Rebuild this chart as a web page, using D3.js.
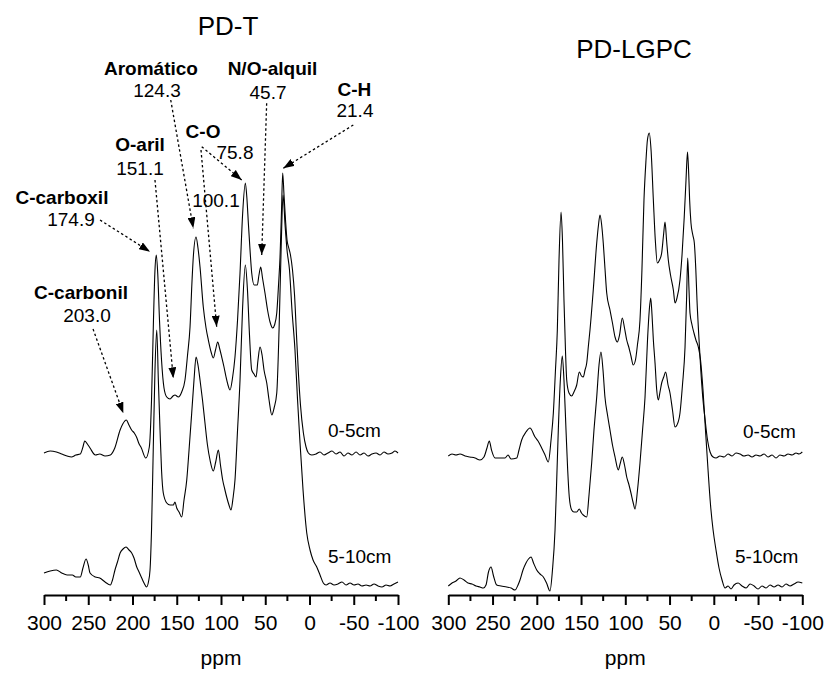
<!DOCTYPE html>
<html><head><meta charset="utf-8">
<script src="https://cdn.jsdelivr.net/npm/d3@7"></script>
<style>
html,body{margin:0;padding:0;background:#fff;}
text{font-family:"Liberation Sans",Arial,sans-serif;fill:#000;}
</style></head>
<body>
<svg id="chart" width="826" height="677"></svg>
<script>
// ---------- DATA (ppm, intensity a.u.) ----------
const panels = ["PD-T", "PD-LGPC"];
const seriesNames = ["0-5cm", "5-10cm"];
const majorTicks = [300, 250, 200, 150, 100, 50, 0, -50, -100];
const minorTicks = [275, 225, 175, 125, 75, 25, -25, -75];

const pdT_0_5 = [[300,142],[293,144],[286,143],[280,141],[274,139],[269,138],[264,140],[259,141],[256,148],[254,154],[251,151],[248,147],[242,140],[237,141],[231,139],[225,140],[220,147],[214,165],[211,171],[207,175],[204,170],[201,165],[198,162],[195,157],[193,152],[190,147],[185,137],[181,148],[178.5,195],[176.3,275],[174.6,325],[173.1,340],[171.4,320],[169.5,275],[167.2,235],[164.4,207],[161.3,198],[157.6,196],[154.2,199],[152,200],[148.2,198],[144.4,203],[140.7,215],[137.8,240],[135,268],[132.7,315],[131.3,338],[128.2,358],[126,347],[123.7,328],[120,288],[116.9,267],[114.3,255],[111.2,243],[108.7,237],[106.2,245],[103.7,253],[101.7,247],[99.2,238],[96.6,228],[94.3,218],[92.1,210],[89.8,205],[87,217],[84.2,238],[81.3,275],[78.5,322],[75.5,382],[72.5,412],[70.6,395],[69.1,372],[67.2,345],[65.3,322],[62.4,310],[59,310],[57.1,320],[55.1,328],[53.1,317],[50.3,302],[47.4,285],[44.6,273],[41.6,267],[39.5,270],[37,282],[35,310],[33.3,338],[31.6,385],[30.3,422],[28.8,400],[27.1,375],[25.4,355],[23.7,348],[21.5,340],[19.2,325],[16.9,300],[14.7,260],[12.4,220],[10.2,190],[6.9,162],[3.9,148],[1.3,142],[-2.5,140],[-7.4,141],[-11.9,143],[-16.4,140],[-20.9,142],[-25.4,144],[-30,141],[-34.5,143],[-39,139],[-43.5,142],[-48,140],[-52.6,143],[-57.1,140],[-61.6,142],[-66.1,139],[-70.6,141],[-75.2,142],[-79.7,140],[-84.2,143],[-88.7,141],[-93.2,142],[-96.6,144],[-100,142]];

const pdT_5_10 = [[300,22],[293,24],[286,25],[280,22],[274,20],[268,20],[264,18],[259,18],[256,27],[252.5,36],[250,30],[248,22],[242,18],[237,17],[231,13],[225,10],[222.6,15],[219.8,25],[217,33],[214,42],[210.7,46],[207.3,48],[203.9,45],[200.9,42],[198.3,37],[195.2,28],[192.6,23],[189.6,17],[187,12],[184,8],[182,13],[180.2,25],[178.5,65],[176.5,148],[174.6,225],[172.6,265],[170.8,215],[168.9,165],[167.2,125],[165.2,102],[161.3,92],[157.6,90],[153.9,90],[152,93],[150,87],[147.4,83],[144.4,78],[141.8,95],[138.7,115],[136.1,145],[133.1,182],[130.5,215],[128.2,238],[126,230],[123.7,215],[120.9,195],[118.1,172],[115.3,150],[112.4,135],[108.7,124],[106,133],[103,145],[100.6,130],[98.1,115],[95.8,106],[93.6,98],[91,90],[88.7,85],[86.4,97],[84.2,115],[81.3,165],[78.5,215],[75.7,285],[72.5,330],[70.1,305],[67.8,260],[65.3,225],[62.7,221],[60.4,218],[58.2,235],[55.9,248],[53.6,240],[51.4,225],[48.3,212],[45.7,195],[42.6,180],[40,187],[37,202],[34.4,265],[32.1,345],[29.9,400],[27.6,370],[25.4,345],[22.6,325],[19.8,285],[16.4,245],[13.5,195],[10.7,152],[7.3,105],[3.1,62],[-0.6,45],[-4,35],[-8.2,28],[-11.9,20],[-15.6,12],[-18.7,10],[-23.2,12],[-27.7,10],[-32.2,11],[-36.7,13],[-41.3,10],[-45.8,12],[-50.3,10],[-54.8,11],[-59.3,9],[-63.9,10],[-68.4,9],[-72.9,11],[-77.4,9],[-81.9,8],[-86.5,10],[-91,9],[-95.5,11],[-100,13]];

const lgpc_0_5 = [[300,139],[295.8,141],[291.3,140],[286.8,141],[281.1,139],[275.5,138],[269.8,137],[264.2,135],[259.7,138],[256.3,147],[253.7,154],[251.2,145],[247.2,137],[241.6,137],[235.9,137],[232.5,140],[229.1,136],[222.7,137],[220.1,145],[217.1,155],[212.2,163],[207.7,167],[202,158],[198.6,154],[194.5,147],[190.7,140],[187,133],[183.9,155],[181.3,182],[178.9,225],[176.8,265],[174.9,335],[172.6,383],[171,355],[169.3,295],[167.6,245],[166.2,215],[163.6,202],[160.6,199],[158,203],[154.9,210],[152,223],[149.5,219],[147.5,218],[145.5,225],[143.6,232],[141.6,250],[139.9,265],[136.2,305],[132.3,352],[130.3,370],[128.6,380],[126.7,370],[124.9,352],[123,327],[121,302],[117.3,285],[114.5,272],[111.6,258],[109,253],[106.5,260],[103.4,277],[100.9,267],[98.4,255],[95.8,247],[93.6,239],[91,230],[88.5,235],[86.3,250],[83.4,275],[81.2,325],[78.9,395],[76.6,435],[75,455],[72.9,462],[70.9,445],[68.3,395],[66.1,355],[63.8,332],[61.3,335],[58.9,342],[56.8,360],[55.1,373],[53.4,355],[51.4,335],[48.9,320],[45.7,305],[43.8,292],[41.6,297],[38.2,315],[35.9,340],[33.4,378],[31.4,415],[29.7,443],[28.3,420],[27.3,395],[25.8,372],[23.7,360],[22,352],[20.3,325],[19,295],[17,260],[14.7,225],[12.2,195],[9.8,175],[7.1,155],[4.2,143],[0.8,138],[-2.5,137],[-7,139],[-11.6,138],[-16.1,141],[-20.6,139],[-25.1,142],[-29.6,141],[-34.2,139],[-38.7,140],[-43.2,138],[-47.7,140],[-52.2,139],[-56.8,141],[-61.3,138],[-65.8,140],[-70.3,137],[-74.8,140],[-79.4,139],[-83.9,141],[-88.4,140],[-92.9,142],[-96.3,141],[-100,143]];

const lgpc_5_10 = [[300,9],[295.8,12],[291.3,14],[286.8,17],[282.3,15],[277.8,12],[273.2,11],[268.7,9],[264.2,8],[260.4,7],[257.4,10],[254.6,23],[251.7,28],[248.9,19],[245.3,10],[240.4,9],[234,8],[229.1,7],[224.6,5],[221.2,10],[219,15],[215.6,25],[212.2,32],[209.4,36],[206.5,38],[203.7,32],[200.1,25],[196.4,21],[192.6,18],[189,12],[185.1,4],[182.3,25],[179.4,65],[177.5,115],[175.7,165],[173.4,215],[171.2,239],[169.3,215],[167,165],[165.1,125],[163.3,98],[160.6,85],[158,83],[154.9,83],[152,86],[149.5,82],[147.5,80],[143.6,78],[141,100],[138,132],[135.4,165],[132.3,198],[129.7,230],[127.5,243],[125.2,225],[123,198],[120.1,180],[117.3,165],[114.5,150],[111.6,138],[107.9,125],[105.6,132],[103.4,138],[100.9,130],[98.4,118],[95.8,110],[93.6,102],[91.3,93],[89,86],[86.2,105],[83.4,132],[80.5,165],[77.7,198],[74.9,255],[72.9,285],[71.3,297],[69.8,280],[68.3,255],[66.4,232],[64.5,205],[62.7,195],[60.8,203],[58.9,212],[56.6,218],[54.4,223],[51.7,210],[49.5,202],[46.7,185],[43.8,168],[41.6,170],[38.2,182],[35.4,210],[32.5,248],[30.8,295],[29.5,337],[28,305],[26.9,282],[24.6,270],[22.4,262],[20.2,255],[17.5,248],[15,235],[12.2,205],[9.4,165],[6.5,125],[3.7,90],[0.8,65],[-2.5,45],[-5.9,27],[-9.3,15],[-12.7,7],[-16.1,9],[-19.5,6],[-22.9,10],[-27.4,12],[-31.9,9],[-36.5,7],[-41,11],[-45.5,9],[-50,6],[-54.5,9],[-59,7],[-63.6,10],[-68.1,8],[-72.6,10],[-77.1,8],[-81.6,11],[-86.2,9],[-90.7,11],[-95.2,13],[-100,12]];

// Annotation labels (PD-T panel) in data coords: name pos, value pos, arrows [tail, tip]
const annotations = [
  {name:"C-carbonil", value:"203.0", namePos:[258.2,295.7], valuePos:[251.4,273.3], arrows:[[[244.6,266],[210.4,181.7]]]},
  {name:"C-carboxil", value:"174.9", namePos:[279.7,391], valuePos:[269.5,369.3], arrows:[[[236.7,375],[180.2,343.3]]]},
  {name:"O-aril", value:"151.1", namePos:[191.5,444.3], valuePos:[191.5,420], arrows:[[[174.6,415],[153.9,216.7]]]},
  {name:"Aromático", value:"124.3", namePos:[179.1,520], valuePos:[172.3,498.3], arrows:[[[156.8,495],[131.3,366.7]]]},
  {name:"C-O", value:"75.8", namePos:[120.3,456.7], valuePos:[84.2,436], arrows:[[[121.8,448.3],[76.6,415]],[[122.6,445],[104.9,268.3]]]},
  {name:"", value:"100.1", namePos:null, valuePos:[105.7,388], arrows:[]},
  {name:"N/O-alquil", value:"45.7", namePos:[41.8,520], valuePos:[46.9,496], arrows:[[[48.4,491.7],[54,340]]]},
  {name:"C-H", value:"21.4", namePos:[-50.8,499], valuePos:[-51.4,477.7], arrows:[[[-49.5,470],[29.6,426.7]]]}
];
// series label anchors (ppm, intensity) per panel
const seriesLabelPos = [
  [[-20.9,158.3],[-20.9,32.3]],
  [[-33,156.7],[-24,31.7]]
];

// ---------- DRAW ----------
const svg = d3.select("#chart");
const y = d3.scaleLinear().domain([0,500]).range([595,95]);
const xScales = [
  d3.scaleLinear().domain([300,-100]).range([44,398]),
  d3.scaleLinear().domain([300,-100]).range([448.3,802.3])
];
const data = [[pdT_0_5, pdT_5_10],[lgpc_0_5, lgpc_5_10]];
const titlePos = [[228,35],[634,58]];

svg.append("defs").append("marker")
  .attr("id","arrow").attr("markerUnits","userSpaceOnUse")
  .attr("markerWidth",11).attr("markerHeight",8)
  .attr("refX",11).attr("refY",4).attr("orient","auto")
  .append("path").attr("d","M0,0 L11,4 L0,8 Z").attr("fill","#000");

panels.forEach((p,i)=>{
  const x = xScales[i];
  const g = svg.append("g");
  const line = d3.line().x(d=>x(d[0])).y(d=>y(d[1])).curve(d3.curveMonotoneX);
  data[i].forEach(s=>{
    g.append("path").datum(s).attr("d",line)
      .attr("fill","none").attr("stroke","#000").attr("stroke-width",1.1);
  });
  // axis
  const ax = g.append("g").attr("transform","translate(0,595)")
    .call(d3.axisBottom(x).tickValues(majorTicks).tickSize(10).tickSizeOuter(0)
      .tickPadding(10).tickFormat(d=>String(d)));
  ax.select(".domain").attr("stroke-width",2);
  ax.selectAll(".tick line").attr("stroke-width",2);
  ax.selectAll("text").attr("font-size",21).style("font-family",'"Liberation Sans",Arial,sans-serif');
  const mg = g.append("g").attr("transform","translate(0,595)");
  mg.selectAll("line").data(minorTicks).join("line")
    .attr("x1",d=>x(d)).attr("x2",d=>x(d)).attr("y1",0).attr("y2",6)
    .attr("stroke","#000").attr("stroke-width",2);
  // ppm label
  g.append("text").attr("x",(x.range()[0]+x.range()[1])/2).attr("y",665)
    .attr("text-anchor","middle").attr("font-size",21).text("ppm");
  // title
  g.append("text").attr("x",titlePos[i][0]).attr("y",titlePos[i][1])
    .attr("text-anchor","middle").attr("font-size",26).text(p);
  // series labels
  seriesNames.forEach((n,k)=>{
    const pos = seriesLabelPos[i][k];
    g.append("text").attr("x",x(pos[0])).attr("y",y(pos[1]))
      .attr("font-size",19).text(n);
  });
});

// annotations on PD-T
const xa = xScales[0];
const ag = svg.append("g");
annotations.forEach(a=>{
  a.arrows.forEach(ar=>{
    ag.append("line")
      .attr("x1",xa(ar[0][0])).attr("y1",y(ar[0][1]))
      .attr("x2",xa(ar[1][0])).attr("y2",y(ar[1][1]))
      .attr("stroke","#000").attr("stroke-width",1.3)
      .attr("stroke-dasharray","2.5,2.5").attr("marker-end","url(#arrow)");
  });
  if(a.namePos){
    ag.append("text").attr("x",xa(a.namePos[0])).attr("y",y(a.namePos[1]))
      .attr("text-anchor","middle").attr("font-size",19).attr("font-weight","bold").text(a.name);
  }
  ag.append("text").attr("x",xa(a.valuePos[0])).attr("y",y(a.valuePos[1]))
    .attr("text-anchor","middle").attr("font-size",19).text(a.value);
});
</script>
</body></html>
